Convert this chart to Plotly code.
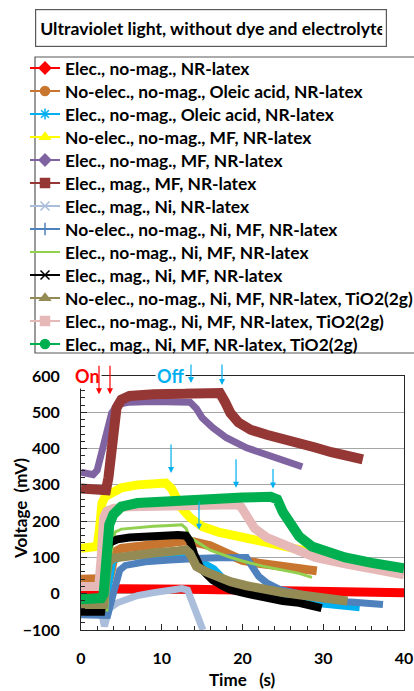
import plotly.graph_objects as go

# ---------------- data ----------------
series_names = [
    "Elec., no-mag., NR-latex",
    "No-elec., no-mag., Oleic acid, NR-latex",
    "Elec., no-mag., Oleic acid, NR-latex",
    "No-elec., no-mag., MF, NR-latex",
    "Elec., no-mag., MF, NR-latex",
    "Elec., mag., MF, NR-latex",
    "Elec., mag., Ni, NR-latex",
    "No-elec., no-mag., Ni, MF, NR-latex",
    "Elec., no-mag., Ni, MF, NR-latex",
    "Elec., mag., Ni, MF, NR-latex",
    "No-elec., no-mag., Ni, MF, NR-latex, TiO2(2g)",
    "Elec., no-mag., Ni, MF, NR-latex, TiO2(2g)",
    "Elec., mag., Ni, MF, NR-latex, TiO2(2g)",
]

t_red = [0, 2, 2.8, 3.5, 5, 8, 11, 13, 14, 17, 20, 25, 30, 35, 38, 40]
v_red = [-5, -3, 5, 12, 14, 15, 15, 14, 12, 11, 10, 10, 10, 9, 7, 3]

t_orange = [0, 3.5, 3.8, 4.2, 5, 8, 11, 13, 14, 16, 18, 20, 22, 25, 27, 29.2]
v_orange = [40, 42, 70, 115, 125, 135, 142, 146, 143, 132, 112, 92, 84, 76, 70, 63]

t_cyan = [0, 3.2, 3.6, 4.0, 5, 8, 11, 13, 13.5, 14.5, 15.5, 16.5, 18, 20, 23, 26, 29, 32, 34.5]
v_cyan = [-35, -35, 40, 90, 100, 105, 108, 110, 105, 95, 82, 70, 35, 18, 0, -15, -28, -36, -40]

t_yellow = [0, 2.0, 2.3, 2.6, 3.0, 4, 5, 7, 9, 10.5, 11.2, 11.8, 12.5, 13.5, 15, 17, 20, 23, 26, 29.5]
v_yellow = [125, 130, 180, 250, 268, 282, 292, 300, 305, 305, 290, 260, 235, 210, 185, 170, 155, 140, 122, 110]

t_purple = [0, 1.5, 2.0, 2.6, 3.2, 3.8, 4.6, 6, 9, 12, 13.5, 14.3, 15, 16.3, 18, 20.5, 23, 25, 27.4]
v_purple = [335, 328, 340, 390, 445, 498, 522, 528, 530, 530, 528, 510, 485, 458, 430, 402, 383, 370, 350]

t_darkred = [0, 2, 3.1, 3.4, 3.7, 4.0, 4.4, 5.0, 6, 9, 12, 15, 17.2, 17.8, 18.5, 19.5, 21, 23, 25, 27, 29, 31, 33, 34.9]
v_darkred = [290, 287, 285, 320, 380, 450, 512, 535, 545, 550, 552, 553, 553, 530, 498, 472, 452, 438, 428, 415, 403, 390, 380, 370]

t_lightblue = [0, 2.5, 2.9, 3.1, 3.5, 4.5, 5.5, 7, 9, 11, 12.5, 13.2, 13.7, 14.2, 14.7, 15.1]
v_lightblue = [-45, -45, -90, -70, -40, -25, -15, -5, 3, 10, 14, 10, -20, -50, -80, -100]

t_steel = [0, 2, 3.3, 4.0, 4.8, 5.5, 8, 11, 13, 15, 17, 19, 20.5, 21.2, 22, 23, 24.6, 27, 30, 33, 35, 37.4]
v_steel = [-58, -58, -60, 0, 65, 78, 88, 93, 97, 98, 99, 100, 100, 75, 48, 30, 12, 0, -15, -22, -26, -30]

t_lgreen = [0, 3.2, 3.6, 4.2, 5, 7, 9, 11, 12.5, 13.0, 13.5, 14.7, 16, 18.5, 20, 22.5, 25, 27, 28.6]
v_lgreen = [-45, -45, 100, 170, 178, 183, 186, 188, 190, 180, 155, 138, 120, 100, 90, 76, 66, 56, 45]

t_black = [0, 2.5, 2.8, 3.1, 3.5, 4.5, 6, 9, 12, 13, 13.5, 14, 14.7, 15.5, 16.3, 17.5, 18.5, 20.5, 22.5, 25, 27, 29.8]
v_black = [-50, -50, 0, 100, 140, 150, 155, 160, 162, 160, 145, 110, 75, 55, 38, 22, 11, 0, -11, -20, -25, -40]

t_olive = [0, 2.8, 3.1, 3.4, 4, 6, 9, 12, 13, 13.5, 14.3, 15.5, 16.3, 18.5, 20.5, 22.5, 25, 27, 30, 33]
v_olive = [-30, -30, 40, 88, 98, 105, 112, 118, 121, 110, 75, 60, 52, 33, 22, 11, 3, -3, -12, -20]

t_pink = [0, 2.2, 2.5, 2.8, 3.2, 4, 6, 10, 15, 19.3, 19.8, 20.5, 21.5, 23, 24.6, 26.5, 29, 32.7, 36, 40]
v_pink = [20, 20, 100, 210, 228, 235, 240, 243, 245, 245, 240, 215, 180, 155, 140, 118, 100, 82, 67, 52]

t_green = [0, 2.5, 2.8, 3.0, 3.2, 3.5, 4, 5, 7, 10, 13, 16, 20, 23.5, 24.3, 25, 26, 27, 28.6, 30.6, 32.7, 36, 40]
v_green = [-15, -12, 0, 65, 150, 190, 218, 240, 250, 255, 258, 262, 265, 267, 260, 225, 188, 158, 130, 112, 100, 85, 70]

series_t = [t_red, t_orange, t_cyan, t_yellow, t_purple, t_darkred, t_lightblue,
            t_steel, t_lgreen, t_black, t_olive, t_pink, t_green]
series_v = [v_red, v_orange, v_cyan, v_yellow, v_purple, v_darkred, v_lightblue,
            v_steel, v_lgreen, v_black, v_olive, v_pink, v_green]

x_ticks = [0, 10, 20, 30, 40]
y_ticks = [-100, 0, 100, 200, 300, 400, 500, 600]

# on / off arrow markers (time, voltage, length px)
on_arrows = [(2.23, 550, 30), (3.59, 550, 30)]
off_arrows = [(13.62, 581, 20), (17.46, 575, 22), (11.15, 333, 30),
              (19.2, 292, 30), (23.78, 290, 21), (14.61, 176, 30)]

# ---------------- styles ----------------
colors = ["#FF0000", "#C8762F", "#00B0F0", "#FFFF00", "#8064A2", "#953735", "#AABEDC",
          "#4F81BD", "#92D050", "#000000", "#948A54", "#E6B9B8", "#00B050"]
symbols = ["diamond", "circle", "asterisk-open", "triangle-up", "diamond", "square",
           "x-thin-open", "cross-thin-open", None, "x-thin-open", "triangle-up", "square", "circle"]
band_w = [9, 9, 6, 9, 7, 10, 7, 7, 3, 8, 9, 9, 10]

FONT = "Lato, 'Open Sans', sans-serif"
W, H = 414, 691
PH = 630  # paper height (bottom margin 61)
LEG_FS = 17.4
ROW0, ROW_STEP = 68, 23


def px(p):
    return p / W


def py(p):
    return (PH - p) / PH


fig = go.Figure()

# data bands
for i in range(len(series_names)):
    fig.add_trace(go.Scatter(
        x=series_t[i], y=series_v[i], mode="lines",
        line=dict(color=colors[i], width=band_w[i]),
        showlegend=False, hoverinfo="skip"))

# legend entries: one legend per row so the row spacing can be set freely
legend_layouts = {}
item_h = LEG_FS * 1.3 + 3
for i in range(len(series_names)):
    lname = "legend" if i == 0 else "legend%d" % (i + 1)
    center = ROW0 + ROW_STEP * i
    legend_layouts[lname] = dict(
        x=px(25), y=py(center - item_h / 2 - 5), xanchor="left", yanchor="top",
        bgcolor="rgba(0,0,0,0)", borderwidth=0, itemwidth=30,
        font=dict(family=FONT, size=LEG_FS, color="#000000", weight="bold"))
    if symbols[i] is None:
        fig.add_trace(go.Scatter(x=[None], y=[None], mode="lines", name=series_names[i],
                                 legend=lname, line=dict(color=colors[i], width=2.2)))
    else:
        fig.add_trace(go.Scatter(
            x=[None], y=[None], mode="lines+markers", name=series_names[i], legend=lname,
            line=dict(color=colors[i], width=2.2),
            marker=dict(symbol=symbols[i], size=9, color=colors[i],
                        line=dict(color=colors[i], width=1.5))))

tick_font = dict(family=FONT, size=16, color="#000000", weight="bold")
lab_font = dict(family=FONT, size=17, color="#000000", weight="bold")

fig.update_layout(
    width=W, height=H,
    margin=dict(l=0, r=0, t=0, b=H - PH, autoexpand=False),
    paper_bgcolor="white", plot_bgcolor="white",
    font=dict(family=FONT, color="#000000"),
    showlegend=True,
    xaxis=dict(
        domain=[px(81), px(404)], range=[0, 40], tickvals=x_ticks,
        showgrid=False, zeroline=False,
        showline=True, linecolor="#262626", linewidth=1, mirror=True,
        ticks="inside", ticklen=6, tickcolor="#262626",
        minor=dict(dtick=2, ticks="inside", ticklen=4, tickcolor="#262626", showgrid=False),
        tickfont=tick_font, ticklabelstandoff=14,
    ),
    yaxis=dict(
        domain=[0, (PH - 376) / PH], range=[-100, 600], tickvals=y_ticks,
        showgrid=True, gridcolor="#A6A6A6", gridwidth=1, zeroline=False,
        showline=True, linecolor="#262626", linewidth=1, mirror=True,
        ticks="inside", ticklen=6, tickcolor="#262626",
        minor=dict(dtick=20, ticks="inside", ticklen=4, tickcolor="#262626", showgrid=False),
        tickfont=tick_font, ticklabelstandoff=17,
    ),
)
fig.update_layout(**legend_layouts)

# legend frame
fig.add_shape(type="rect", xref="paper", yref="paper",
              x0=px(35), x1=px(430), y0=py(353), y1=py(57),
              line=dict(color="#595959", width=1.2), fillcolor="rgba(0,0,0,0)")

# title box
fig.add_annotation(
    xref="paper", yref="paper", x=px(35), y=py(28.5), xanchor="left", yanchor="middle",
    text="Ultraviolet light, without dye and electrolyte", showarrow=False,
    align="left", width=342, height=28, borderpad=4,
    bordercolor="#595959", borderwidth=1.2, bgcolor="white",
    font=dict(family=FONT, size=17.6, color="#000000", weight="bold"))

# axis titles
fig.add_annotation(xref="paper", yref="paper", x=px(242), y=py(679),
                   xanchor="center", yanchor="middle",
                   text="Time   (s)", showarrow=False, font=lab_font)
fig.add_annotation(xref="paper", yref="paper", x=px(20), y=py(509),
                   xanchor="center", yanchor="middle",
                   text="Voltage  (mV)", showarrow=False, textangle=-90, font=lab_font)

# On / Off labels
fig.add_annotation(xref="paper", yref="paper", x=px(87), y=py(376),
                   xanchor="center", yanchor="middle",
                   text="On", showarrow=False, bgcolor="white",
                   font=dict(family=FONT, size=18, color="#FF0000", weight="bold"))
fig.add_annotation(xref="paper", yref="paper", x=px(170), y=py(376),
                   xanchor="center", yanchor="middle",
                   text="Off", showarrow=False, bgcolor="white",
                   font=dict(family=FONT, size=18, color="#00B0F0", weight="bold"))

for (tx, vy, ln) in on_arrows:
    fig.add_annotation(x=tx, y=vy, xref="x", yref="y", ax=0, ay=-ln, text="",
                       showarrow=True, arrowhead=2, arrowsize=1, arrowwidth=1.2,
                       arrowcolor="#FF0000")
for (tx, vy, ln) in off_arrows:
    fig.add_annotation(x=tx, y=vy, xref="x", yref="y", ax=0, ay=-ln, text="",
                       showarrow=True, arrowhead=2, arrowsize=1, arrowwidth=1.2,
                       arrowcolor="#00B0F0")

fig.write_html("out.html")
